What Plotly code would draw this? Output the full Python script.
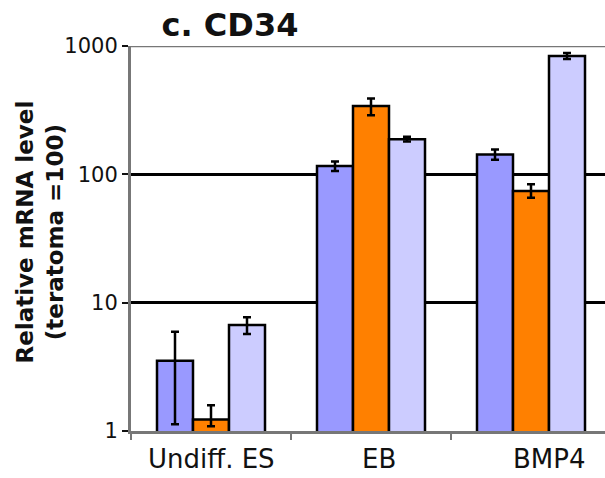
import plotly.graph_objects as go

categories = ["Undiff. ES", "EB", "BMP4"]
series1 = [3.53, 116, 143]
series1_err = [2.4, 10, 13]
series2 = [1.23, 341, 74.3]
series2_err_plus = [0.36, 48, 9.5]
series2_err_minus = [0.14, 52, 8.5]
series3 = [6.7, 188, 837]
series3_err = [1.0, 8, 45]
colors = ["#9999FF", "#FF8000", "#CCCCFF"]
label_shift = [0, 8, 18]
xpos = list(range(len(categories)))

fig = go.Figure()
common = dict(marker_line_color="black", marker_line_width=2.5)
fig.add_trace(go.Bar(x=xpos, y=series1, marker_color=colors[0],
                     error_y=dict(type="data", array=series1_err, color="black", thickness=2.5, width=4),
                     **common))
fig.add_trace(go.Bar(x=xpos, y=series2, marker_color=colors[1],
                     error_y=dict(type="data", array=series2_err_plus, arrayminus=series2_err_minus,
                                  symmetric=False, color="black", thickness=2.5, width=4),
                     **common))
fig.add_trace(go.Bar(x=xpos, y=series3, marker_color=colors[2],
                     error_y=dict(type="data", array=series3_err, color="black", thickness=2.5, width=4),
                     **common))

for i, c in enumerate(categories):
    fig.add_annotation(x=i, y=0, xref="x", yref="paper", text=c, showarrow=False,
                       yanchor="top", yshift=-11, xshift=label_shift[i],
                       font=dict(size=26, color="#111"))

fig.add_annotation(x=-0.192, y=0.518, xref="paper", yref="paper", textangle=-90,
                   text="<b>Relative mRNA level<br>(teratoma =100)</b>", showarrow=False,
                   xanchor="center", yanchor="middle", align="center",
                   font=dict(size=23, color="#111"))

fig.update_layout(
    width=605, height=478,
    margin=dict(l=131, r=0, t=46, b=47),
    paper_bgcolor="white", plot_bgcolor="white",
    font=dict(family="DejaVu Sans", color="#111"),
    showlegend=False,
    barmode="group", bargap=0.325, bargroupgap=0,
    title=dict(text="<b>c. CD34</b>", x=230/605, xanchor="center", xref="container",
               y=1 - 25/478, yanchor="middle", font=dict(size=32, color="#111")),
)
fig.update_xaxes(range=[-0.5, 2.4625], tickvals=[-0.5, 0.5, 1.5, 2.5], ticktext=["", "", "", ""],
                 ticks="outside", ticklen=6, tickcolor="#777", tickwidth=2,
                 showline=True, linecolor="#777", linewidth=2.5, showgrid=False, zeroline=False)
fig.update_yaxes(type="log", range=[0, 3], tickvals=[1, 10, 100, 1000], ticktext=["1", "10", "100", "1000"],
                 ticks="outside", ticklen=6, tickcolor="#111", tickwidth=2,
                 tickfont=dict(size=21, color="#111"),
                 showline=True, linecolor="#777", linewidth=3, mirror=False,
                 showgrid=True, gridcolor="black", gridwidth=2.5, zeroline=False)
fig.add_shape(type="line", xref="paper", yref="y", x0=0, x1=1, y0=1000, y1=1000,
              line=dict(color="#777", width=2.5), layer="above")

fig.write_html("out.html")
